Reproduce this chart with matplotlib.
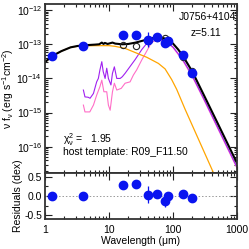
import numpy as np
import matplotlib
matplotlib.use("Agg")
import matplotlib.pyplot as plt
from matplotlib.ticker import LogLocator, FixedLocator, NullFormatter, FuncFormatter

plt.rcParams['font.family'] = ['Liberation Sans', 'DejaVu Sans']
plt.rcParams['mathtext.fontset'] = 'custom'
plt.rcParams['mathtext.rm'] = 'Liberation Sans'
plt.rcParams['mathtext.it'] = 'Liberation Sans'
plt.rcParams['mathtext.default'] = 'regular'

# observed photometry (micron, log nu f_nu)
lam_obs = [1.3, 3.9, 16.4, 26.4, 41, 57, 74, 83, 141, 200]
logf_obs = [-13.33, -13.04, -12.73, -12.73, -12.87, -12.78, -12.95, -12.89, -13.31, -13.83]
err_dex = [0.02, 0.02, 0.03, 0.03, 0.22, 0.1, 0.14, 0.08, 0.03, 0.03]
resid = [0.0, 0.0, 0.30, 0.31, 0.04, 0.05, -0.14, -0.01, 0.05, -0.05]

# total model
lam_tot = [1.0, 1.3, 1.8, 2.5, 3.2, 4.0, 6.0, 7.0, 7.7, 8.2, 8.6, 9.5, 11.3, 12.5, 16, 20, 26, 36,
           45, 55, 66, 75, 84, 100, 120, 141, 170, 200, 300, 500, 1000]
logf_tot = [-13.52, -13.34, -13.2, -13.09, -13.05, -13.03, -13.01, -13.0, -12.95, -12.99, -12.96,
            -12.99, -12.95, -12.98, -13.0, -12.99, -12.95, -12.88, -12.83, -12.80, -12.81, -12.83,
            -12.88, -12.98, -13.15, -13.33, -13.58, -13.80, -14.47, -15.32, -16.48]

# AGN torus
lam_agn = [1.0, 1.3, 1.8, 2.5, 3.2, 4.0, 6, 10, 12.4, 17.8, 25.5, 38.8, 59, 75, 95, 114, 154, 425, 460]
logf_agn = [-13.52, -13.34, -13.2, -13.09, -13.06, -13.05, -13.04, -13.04, -13.06, -13.12, -13.24,
            -13.38, -13.56, -13.72, -14.03, -14.32, -14.9, -16.75, -16.9]

# host templates
lam_sf1 = [3.97, 4.2, 4.7, 5.05, 5.7, 6.4, 6.8, 7.2, 7.7, 8.1, 8.67, 9.2, 9.76, 10.7, 11.3, 12.1,
           13.2, 14.9, 16.1, 17.8, 20, 25.5, 32.6, 41, 50, 60, 70, 84, 100, 141, 200, 300, 1000]
logf_sf1 = [-14.34, -14.54, -14.55, -14.58, -14.44, -14.10, -14.0, -13.75, -13.51, -13.80, -14.0,
            -13.70, -14.0, -14.19, -13.85, -13.66, -14.0, -14.0, -13.95, -13.85, -13.72, -13.45,
            -13.15, -12.92, -12.85, -12.85, -12.88, -12.96, -13.08, -13.44, -13.92, -14.58, -16.60]
lam_sf2 = [3.97, 4.2, 5.0, 5.7, 6.4, 7.2, 7.7, 8.3, 9.2, 9.76, 10.4, 11.3, 12.1, 13.2, 15.5, 17.8,
           21.3, 24, 27, 32.6, 38.8, 46, 55, 65, 75, 84, 100, 141, 200, 300, 1000]
logf_sf2 = [-14.78, -14.98, -14.98, -14.78, -14.49, -14.24, -14.05, -14.39, -14.39, -14.78, -14.93,
            -14.39, -14.14, -14.34, -14.29, -14.14, -14.10, -13.9, -13.75, -13.45, -13.2, -12.95,
            -12.87, -12.88, -12.92, -12.98, -13.10, -13.47, -13.95, -14.61, -16.63]

lam_obs = np.array(lam_obs)
f_obs = 10.0 ** np.array(logf_obs)
err = np.array(err_dex)
f_lo = f_obs - f_obs / 10 ** err
f_hi = f_obs * 10 ** err - f_obs
f_mod = 10.0 ** (np.array(logf_obs) - np.array(resid))

fig = plt.figure(figsize=(2.49, 2.49), dpi=100)
ax = fig.add_axes([0.181, 0.305, 0.771, 0.679])
axr = fig.add_axes([0.181, 0.12, 0.771, 0.185])

blue = '#0a14f0'
ax.plot(lam_sf2, 10.0 ** np.array(logf_sf2), color='#ff6ec7', lw=0.8)
ax.plot(lam_sf1, 10.0 ** np.array(logf_sf1), color='#a020f0', lw=0.8)
ax.plot(lam_agn, 10.0 ** np.array(logf_agn), color='#ffa500', lw=0.9)
ax.plot(lam_tot, 10.0 ** np.array(logf_tot), color='black', lw=1.5)
ax.plot(lam_obs, f_mod, 'o', mfc='none', mec='#222222', ms=4.5, mew=0.8)
ax.errorbar(lam_obs, f_obs, yerr=[f_lo, f_hi], fmt='o', color=blue, ms=6, elinewidth=0.9, capsize=0)

ax.set_xscale('log')
ax.set_yscale('log')
ax.set_xlim(1, 1000)
ax.set_ylim(10 ** -16.77, 10 ** -11.82)
ax.yaxis.set_major_locator(LogLocator(base=10, numticks=10))
ax.yaxis.set_minor_locator(LogLocator(base=10, subs=np.arange(2, 10), numticks=20))
ax.yaxis.set_major_formatter(FuncFormatter(lambda v, p: r'$10^{%d}$' % round(np.log10(v))))
ax.xaxis.set_major_formatter(NullFormatter())
ax.xaxis.set_minor_formatter(NullFormatter())
ax.set_ylabel(r'ν f$_{ν}$ (erg s$^{-1}$cm$^{-2}$)', fontsize=7.5, labelpad=0)

ax.text(0.993, 0.922, 'J0756+4104', transform=ax.transAxes, ha='right', va='center', fontsize=7.5)
ax.text(0.92, 0.826, 'z=5.11', transform=ax.transAxes, ha='right', va='center', fontsize=7.5)
ax.text(0.094, 0.195, r'$χ^2_ν$ =   1.95', transform=ax.transAxes, ha='left', va='center',
        fontsize=7.5)
ax.text(0.094, 0.124, 'host template: R09_F11.50', transform=ax.transAxes, ha='left', va='center',
        fontsize=7.5)

axr.axhline(0, color='#999999', lw=0.7, ls=(0, (1.5, 2)))
axr.errorbar(lam_obs, resid, yerr=err, fmt='o', color=blue, ms=6, elinewidth=0.9, capsize=0)
axr.set_xscale('log')
axr.set_xlim(1, 1000)
axr.set_ylim(-0.6, 0.6)
axr.yaxis.set_major_locator(FixedLocator([-0.5, 0.0, 0.5]))
axr.yaxis.set_minor_locator(FixedLocator([-0.25, 0.25]))
axr.yaxis.set_major_formatter(FuncFormatter(lambda v, p: '%.1f' % v))
axr.xaxis.set_major_formatter(FuncFormatter(lambda v, p: '%d' % round(v)))
axr.set_xlabel('Wavelength (μm)', fontsize=7.5, labelpad=1)
axr.set_ylabel('Residuals (dex)', fontsize=7.5, labelpad=1)

for a in (ax, axr):
    a.tick_params(which='both', direction='in', top=True, right=True, labelsize=7.5, width=0.8,
                  color='#222222', pad=2)
    a.tick_params(which='major', length=5)
    a.tick_params(which='minor', length=2.5)
    for s in a.spines.values():
        s.set_linewidth(1.3)
        s.set_color('#333333')
axr.tick_params(axis='x', which='both', pad=4)

fig.savefig('out.png', dpi=100)
